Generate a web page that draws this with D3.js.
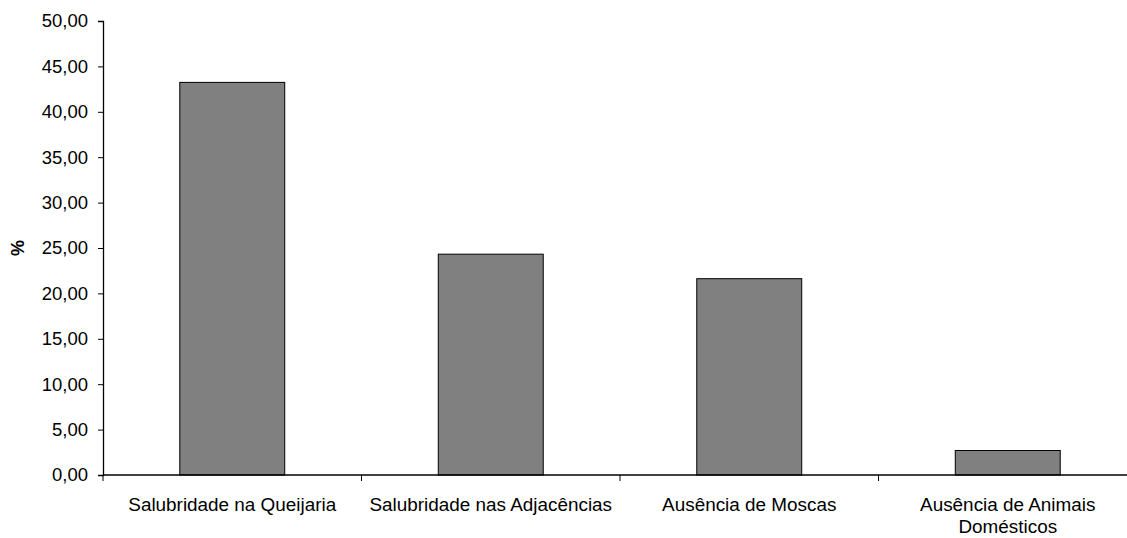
<!DOCTYPE html>
<html>
<head>
<meta charset="utf-8">
<script src="https://cdn.jsdelivr.net/npm/d3@7"></script>
<style>
  html, body { margin: 0; padding: 0; background: #fff; }
  svg { display: block; font-family: "Liberation Sans", Arial, sans-serif; }
</style>
</head>
<body>
<svg id="chart" width="1127" height="538"></svg>
<script>
// Categories (each entry is a list of label lines) and percentages
const categories = [
  ["Salubridade na Queijaria"],
  ["Salubridade nas Adjacências"],
  ["Ausência de Moscas"],
  ["Ausência de Animais", "Domésticos"]
];
const values = [43.24, 24.32, 21.62, 2.70];
const yTicks = [0, 5, 10, 15, 20, 25, 30, 35, 40, 45, 50];
const yLabel = "%";

const svg = d3.select("#chart");
const plotLeft = 103, plotTop = 21, plotBottom = 475;
const bandWidth = 258.5;
const plotRight = plotLeft + bandWidth * categories.length;

const keys = categories.map((c, i) => i);
const x = d3.scaleBand().domain(keys).range([plotLeft, plotRight]).paddingInner(0.594).paddingOuter(0.297);
const xb = d3.scaleBand().domain(keys).range([plotLeft, plotRight]);
const y = d3.scaleLinear().domain([0, 50]).range([plotBottom, plotTop]);

const fmt = d => d3.format(".2f")(d).replace(".", ",");

// Bars
svg.append("g").selectAll("rect").data(values).join("rect")
  .attr("x", (d, i) => x(i))
  .attr("y", d => y(d))
  .attr("width", x.bandwidth())
  .attr("height", d => plotBottom - y(d))
  .attr("fill", "#808080")
  .attr("stroke", "#000")
  .attr("stroke-width", 1);

// Y axis
const yAxis = svg.append("g").attr("transform", `translate(${plotLeft},0)`)
  .call(d3.axisLeft(y).tickValues(yTicks).tickFormat(fmt).tickSize(5).tickPadding(10));
yAxis.select(".domain").attr("stroke", "#000").attr("stroke-width", 1.3);
yAxis.selectAll(".tick line").attr("stroke", "#000");
yAxis.selectAll(".tick text").attr("font-size", 18.5).attr("fill", "#000")
  .attr("font-family", "Liberation Sans, Arial, sans-serif");

// X axis line with ticks at category boundaries
const xg = svg.append("g");
xg.append("line").attr("x1", plotLeft).attr("x2", plotRight).attr("y1", plotBottom).attr("y2", plotBottom)
  .attr("stroke", "#000").attr("stroke-width", 1.3);
xg.selectAll("line.tk").data(keys.concat([keys.length])).join("line")
  .attr("class", "tk")
  .attr("x1", i => plotLeft + i * xb.bandwidth()).attr("x2", i => plotLeft + i * xb.bandwidth())
  .attr("y1", plotBottom).attr("y2", plotBottom + 6)
  .attr("stroke", "#000");

// Category labels
const labels = xg.selectAll("text.cat").data(categories).join("text")
  .attr("class", "cat")
  .attr("x", (d, i) => xb(i) + xb.bandwidth() / 2)
  .attr("y", 510.5)
  .attr("text-anchor", "middle")
  .attr("font-size", 18.9)
  .attr("fill", "#000");
labels.each(function(lines) {
  const t = d3.select(this);
  lines.forEach((l, j) => {
    t.append("tspan").attr("x", t.attr("x")).attr("dy", j === 0 ? 0 : 22.5).text(l);
  });
});

// Y axis title
svg.append("text")
  .attr("transform", `translate(24,${(plotTop + plotBottom) / 2}) rotate(-90)`)
  .attr("text-anchor", "middle")
  .attr("font-size", 18)
  .attr("font-weight", "bold")
  .text(yLabel);
</script>
</body>
</html>
